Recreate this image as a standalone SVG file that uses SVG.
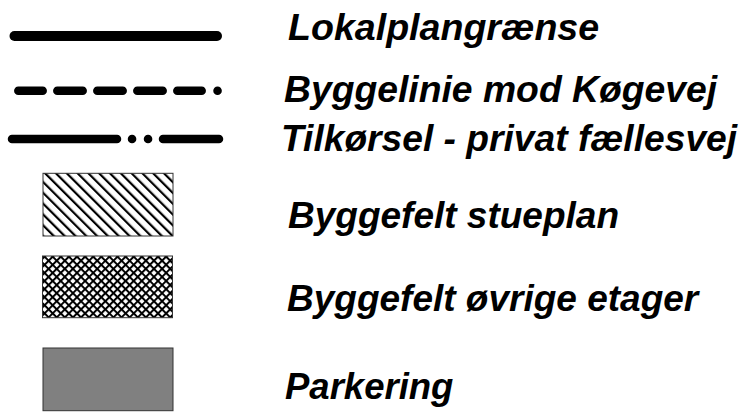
<svg xmlns="http://www.w3.org/2000/svg" width="742" height="412" viewBox="0 0 742 412">
<style>
.lbl{font-family:"Liberation Sans",Arial,sans-serif;font-weight:bold;font-style:italic;font-size:37px;fill:#000}
.ln{fill:none;stroke:#000;stroke-linecap:round}
.box{stroke:#333;stroke-width:1}
</style>
<defs>
<pattern id="hatch" patternUnits="userSpaceOnUse" width="7.64" height="7.64" patternTransform="rotate(-45)">
<line x1="1" y1="0" x2="1" y2="7.64" stroke="#000" stroke-width="2.4"/>
</pattern>
<pattern id="cross" patternUnits="userSpaceOnUse" width="5.73" height="5.73" patternTransform="rotate(45)">
<rect width="5.73" height="5.73" fill="#fff"/>
<line x1="1" y1="0" x2="1" y2="5.73" stroke="#000" stroke-width="2"/>
<line x1="0" y1="1" x2="5.73" y2="1" stroke="#000" stroke-width="2"/>
</pattern>
</defs>
<rect width="742" height="412" fill="#fff"/>
<g id="connectors">
<path id="lokalplan-line" class="ln" stroke-width="10" d="M14.5 36H217"/>
<path id="byggelinie-line" class="ln" stroke-width="8.5" d="M18.3 90.7H42.7M57.3 90.7H82.7M97.3 90.7H122.7M137.3 90.7H162.7M177.3 90.7H201.7M217.5 90.7H217.6"/>
<path id="tilkoersel-line" class="ln" stroke-width="8.5" d="M12 139H117M132 139H132.1M148 139H148.1M163 139H219"/>
</g>
<g id="n-lokalplan"><text class="lbl" x="288" y="40" style="font-size:37.6px">Lokalplangrænse</text></g>
<g id="n-byggelinie"><text class="lbl" x="284" y="101.7" style="font-size:37.3px">Byggelinie mod Køgevej</text></g>
<g id="n-tilkoersel"><text class="lbl" x="281" y="151" style="font-size:37.2px">Tilkørsel - privat fællesvej</text></g>
<g id="n-stueplan">
<rect class="box" x="43" y="173.3" width="130" height="62.7" fill="url(#hatch)"/>
<text class="lbl" x="288" y="227.7">Byggefelt stueplan</text>
</g>
<g id="n-oevrige">
<rect class="box" x="42.5" y="256" width="130" height="61.7" fill="url(#cross)"/>
<text class="lbl" x="287" y="311">Byggefelt øvrige etager</text>
</g>
<g id="n-parkering">
<rect class="box" x="43" y="348" width="130" height="62.7" fill="#808080"/>
<text class="lbl" x="285" y="399" style="font-size:36.5px">Parkering</text>
</g>
</svg>
